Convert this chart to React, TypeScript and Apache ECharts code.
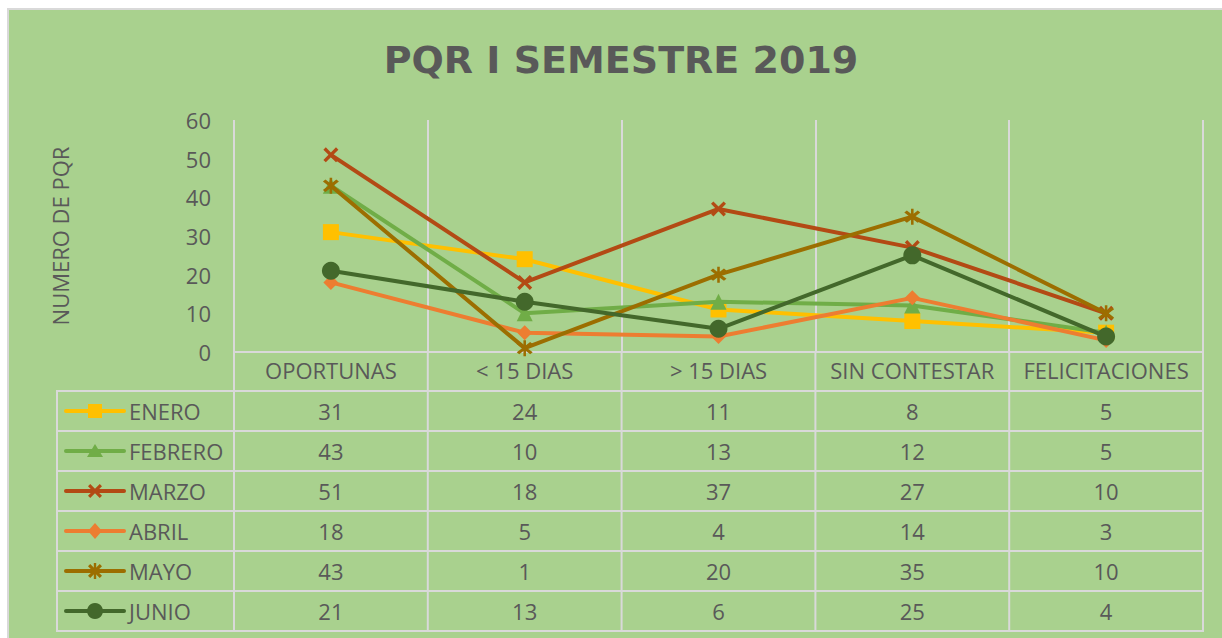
import React, { useEffect, useRef } from "react";
import * as echarts from "echarts";

const categories = ["OPORTUNAS", "< 15 DIAS", "> 15 DIAS", "SIN CONTESTAR", "FELICITACIONES"];
const months = ["ENERO", "FEBRERO", "MARZO", "ABRIL", "MAYO", "JUNIO"];
const enero = [31, 24, 11, 8, 5];
const febrero = [43, 10, 13, 12, 5];
const marzo = [51, 18, 37, 27, 10];
const abril = [18, 5, 4, 14, 3];
const mayo = [43, 1, 20, 35, 10];
const junio = [21, 13, 6, 25, 4];
const yMin = 0;
const yMax = 60;
const yInterval = 10;

const seriesValues = [enero, febrero, marzo, abril, mayo, junio];
const colors = ["#FFC000", "#70AD47", "#B34A14", "#ED7D31", "#9C6E00", "#43682B"];
const kinds = ["square", "triangle", "x", "diamond", "star", "circle"];

const TEXT = "#595959";
const GRID = "#D9D9D9";
const FONT = "'Open Sans', sans-serif";

const D = 1.6;
const X_PTS = [
  [D, 0], [5, 5 - D], [10 - D, 0], [10, D], [5 + D, 5], [10, 10 - D],
  [10 - D, 10], [5, 5 + D], [D, 10], [0, 10 - D], [5 - D, 5], [0, D],
];
const xPathStr = "M" + X_PTS.map(([a, b]) => `${a},${b}`).join(" L") + " Z";
const X_PATH = "path://" + xPathStr;
const STAR_PATH = "path://" + xPathStr + " M4.2,-1.5 L5.8,-1.5 L5.8,11.5 L4.2,11.5 Z";

function symbolFor(kind: string) {
  switch (kind) {
    case "square": return { symbol: "rect", size: 16 };
    case "triangle": return { symbol: "triangle", size: 16 };
    case "x": return { symbol: X_PATH, size: 15 };
    case "diamond": return { symbol: "diamond", size: 15 };
    case "star": return { symbol: STAR_PATH, size: 16 };
    default: return { symbol: "circle", size: 18 };
  }
}

function xPolys(cx: number, cy: number, s: number) {
  const k = s / 10;
  return X_PTS.map(([a, b]) => [cx - s / 2 + a * k, cy - s / 2 + b * k]);
}

function markerGraphic(kind: string, cx: number, cy: number, color: string): any[] {
  const style = { fill: color };
  const s = 14;
  switch (kind) {
    case "square":
      return [{ type: "rect", shape: { x: cx - 7, y: cy - 7, width: 14, height: 14 }, style }];
    case "triangle":
      return [{ type: "polygon", shape: { points: [[cx, cy - 7], [cx + 8, cy + 6], [cx - 8, cy + 6]] }, style }];
    case "diamond":
      return [{ type: "polygon", shape: { points: [[cx, cy - 8], [cx + 7, cy], [cx, cy + 8], [cx - 7, cy]] }, style }];
    case "x":
      return [{ type: "polygon", shape: { points: xPolys(cx, cy, s) }, style }];
    case "star":
      return [
        { type: "polygon", shape: { points: xPolys(cx, cy, s) }, style },
        { type: "rect", shape: { x: cx - 1.2, y: cy - 8, width: 2.4, height: 16 }, style },
      ];
    default:
      return [{ type: "circle", shape: { cx, cy, r: 8 }, style }];
  }
}

export default function App() {
  const ref = useRef<HTMLDivElement>(null);

  useEffect(() => {
    if (!ref.current) return;
    const chart = echarts.init(ref.current, undefined, { renderer: "svg" });

    const series = months.map((m, i) => {
      const sym = symbolFor(kinds[i]);
      return {
        name: m,
        type: "line",
        data: seriesValues[i],
        symbol: sym.symbol,
        symbolSize: sym.size,
        showSymbol: true,
        lineStyle: { color: colors[i], width: 4 },
        itemStyle: { color: colors[i] },
        z: 2 + i,
      };
    });

    chart.setOption({
      animation: false,
      backgroundColor: "#ffffff",
      grid: { left: 234, right: 19, top: 120, bottom: 286, containLabel: false },
      xAxis: {
        type: "category",
        data: categories,
        boundaryGap: true,
        axisLine: { show: true, lineStyle: { color: GRID, width: 2 } },
        axisTick: { show: false },
        axisLabel: { color: TEXT, fontSize: 22, fontFamily: FONT, margin: 7, interval: 0 },
        splitLine: { show: true, lineStyle: { color: GRID, width: 2 } },
      },
      yAxis: {
        type: "value",
        min: yMin,
        max: yMax,
        interval: yInterval,
        name: "NUMERO DE PQR",
        nameLocation: "middle",
        nameRotate: 90,
        nameGap: 163,
        nameTextStyle: { color: TEXT, fontSize: 22, fontFamily: FONT },
        axisLine: { show: false },
        axisTick: { show: false },
        axisLabel: { color: TEXT, fontSize: 22, fontFamily: FONT, margin: 23 },
        splitLine: { show: false },
      },
      series,
    });

    const px = (i: number) => chart.convertToPixel({ xAxisIndex: 0 }, i) as number;
    const bw = px(1) - px(0);
    const y0 = chart.convertToPixel({ yAxisIndex: 0 }, 0) as number;
    const bounds = [px(0) - bw / 2, ...categories.map((_, i) => px(i) + bw / 2)];
    const headerH = 39;
    const rowH = 40;
    const tableTop = y0 + headerH;
    const tableLeft = 57;
    const tableBottom = tableTop + rowH * months.length;
    const rightX = bounds[bounds.length - 1];

    const lineStyle = { stroke: GRID, lineWidth: 2 };
    const graphics: any[] = [
      {
        type: "rect",
        z: -100,
        silent: true,
        shape: { x: 8, y: 9, width: 1240, height: 660 },
        style: { fill: "#A9D18E", stroke: GRID, lineWidth: 2 },
      },
      {
        type: "text",
        x: 621,
        y: 60,
        style: {
          text: "PQR I SEMESTRE 2019",
          fill: TEXT,
          font: "bold 38px 'DejaVu Sans', sans-serif",
          textAlign: "center",
          textVerticalAlign: "middle",
        },
      },
    ];
    bounds.forEach((bx) => {
      graphics.push({ type: "line", shape: { x1: bx, y1: y0, x2: bx, y2: tableBottom + 1 }, style: lineStyle });
    });
    graphics.push({ type: "line", shape: { x1: tableLeft, y1: tableTop, x2: tableLeft, y2: tableBottom + 1 }, style: lineStyle });
    for (let r = 0; r <= months.length; r++) {
      const ry = tableTop + r * rowH;
      graphics.push({ type: "line", shape: { x1: tableLeft - 1, y1: ry, x2: rightX + 1, y2: ry }, style: lineStyle });
    }
    months.forEach((m, r) => {
      const cy = tableTop + r * rowH + rowH / 2;
      graphics.push({ type: "line", shape: { x1: 66, y1: cy, x2: 124, y2: cy }, style: { stroke: colors[r], lineWidth: 4, lineCap: "round" } });
      markerGraphic(kinds[r], 95, cy, colors[r]).forEach((g) => graphics.push(g));
      graphics.push({
        type: "text",
        x: 129,
        y: cy,
        style: { text: m, fill: TEXT, font: `22px ${FONT}`, textAlign: "left", textVerticalAlign: "middle" },
      });
      seriesValues[r].forEach((v, c) => {
        graphics.push({
          type: "text",
          x: px(c),
          y: cy,
          style: { text: String(v), fill: TEXT, font: `22px ${FONT}`, textAlign: "center", textVerticalAlign: "middle" },
        });
      });
    });

    chart.setOption({ graphic: { elements: graphics } });

    return () => chart.dispose();
  }, []);

  return (
    <div
      ref={ref}
      style={{ position: "fixed", left: 0, top: 0, width: 1222, height: 638 }}
    />
  );
}
